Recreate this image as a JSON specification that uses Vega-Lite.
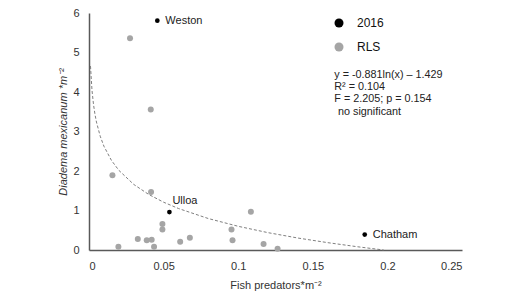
{
  "$schema": "https://vega.github.io/schema/vega-lite/v6.json",
  "width": 373,
  "height": 237,
  "autosize": {"type": "none"},
  "padding": {"left": 89, "top": 13, "right": 66, "bottom": 46},
  "background": "white",
  "config": {
    "view": {"stroke": null},
    "font": "Liberation Sans",
    "axis": {
      "grid": false,
      "ticks": false,
      "labelOverlap": false,
      "domainColor": "#595959",
      "domainWidth": 1.5,
      "labelFont": "Liberation Sans",
      "labelFontSize": 11,
      "labelColor": "#333333",
      "titleFont": "Liberation Sans",
      "titleFontSize": 11,
      "titleFontWeight": "normal",
      "titleColor": "#333333"
    }
  },
  "datasets": {
    "pts": [
      {"x": 0.0458, "y": 5.805, "group": "2016", "site": "Weston"},
      {"x": 0.0539, "y": 0.96, "group": "2016", "site": "Ulloa"},
      {"x": 0.1848, "y": 0.39, "group": "2016", "site": "Chatham"},
      {"x": 0.0275, "y": 5.36, "group": "RLS", "site": ""},
      {"x": 0.0414, "y": 3.56, "group": "RLS", "site": ""},
      {"x": 0.0157, "y": 1.89, "group": "RLS", "site": ""},
      {"x": 0.0416, "y": 1.47, "group": "RLS", "site": ""},
      {"x": 0.0492, "y": 0.66, "group": "RLS", "site": ""},
      {"x": 0.0492, "y": 0.52, "group": "RLS", "site": ""},
      {"x": 0.1085, "y": 0.97, "group": "RLS", "site": ""},
      {"x": 0.0955, "y": 0.52, "group": "RLS", "site": ""},
      {"x": 0.0962, "y": 0.25, "group": "RLS", "site": ""},
      {"x": 0.117, "y": 0.15, "group": "RLS", "site": ""},
      {"x": 0.1264, "y": 0.03, "group": "RLS", "site": ""},
      {"x": 0.0197, "y": 0.08, "group": "RLS", "site": ""},
      {"x": 0.0327, "y": 0.28, "group": "RLS", "site": ""},
      {"x": 0.0387, "y": 0.25, "group": "RLS", "site": ""},
      {"x": 0.042, "y": 0.26, "group": "RLS", "site": ""},
      {"x": 0.0436, "y": 0.08, "group": "RLS", "site": ""},
      {"x": 0.0611, "y": 0.21, "group": "RLS", "site": ""},
      {"x": 0.0676, "y": 0.31, "group": "RLS", "site": ""}
    ],
    "trend": [
      {"x": 0.001, "y": 4.657},
      {"x": 0.002, "y": 4.046},
      {"x": 0.003, "y": 3.689},
      {"x": 0.004, "y": 3.435},
      {"x": 0.005, "y": 3.239},
      {"x": 0.0075, "y": 2.882},
      {"x": 0.01, "y": 2.628},
      {"x": 0.015, "y": 2.271},
      {"x": 0.02, "y": 2.017},
      {"x": 0.03, "y": 1.66},
      {"x": 0.04, "y": 1.407},
      {"x": 0.05, "y": 1.21},
      {"x": 0.06, "y": 1.05},
      {"x": 0.08, "y": 0.796},
      {"x": 0.1, "y": 0.6},
      {"x": 0.12, "y": 0.439},
      {"x": 0.14, "y": 0.303},
      {"x": 0.16, "y": 0.186},
      {"x": 0.18, "y": 0.082},
      {"x": 0.1975, "y": 0.0}
    ],
    "notes": [
      {"x": 0.1644, "y": 4.43, "line": "y = -0.881ln(x) – 1.429"},
      {"x": 0.1644, "y": 4.13, "line": "R² = 0.104"},
      {"x": 0.1644, "y": 3.83, "line": "F = 2.205; p = 0.154"},
      {"x": 0.1669, "y": 3.5, "line": "no significant"}
    ]
  },
  "layer": [
    {
      "data": {"name": "trend"},
      "mark": {"type": "line", "color": "#7f7f7f", "strokeDash": [3, 2], "strokeWidth": 1},
      "encoding": {
        "x": {"field": "x", "type": "quantitative", "scale": {"domain": [0, 0.25], "nice": false},
          "axis": {"values": [0, 0.05, 0.1, 0.15, 0.2, 0.25], "format": "~g", "labelOverlap": false, "labelPadding": 10, "title": "Fish predators*m⁻²", "titlePadding": 8}},
        "y": {"field": "y", "type": "quantitative", "scale": {"domain": [0, 6], "nice": false},
          "axis": {"values": [0, 1, 2, 3, 4, 5, 6], "tickCount": 7, "labelOverlap": false, "labelPadding": 10, "title": "Diadema mexicanum *m⁻²", "titleFontStyle": "italic", "titlePadding": 4}}
      }
    },
    {
      "data": {"name": "pts"},
      "mark": {"type": "point", "filled": true, "opacity": 1, "shape": "circle"},
      "encoding": {
        "x": {"field": "x", "type": "quantitative"},
        "y": {"field": "y", "type": "quantitative"},
        "color": {"field": "group", "type": "nominal",
          "scale": {"domain": ["2016", "RLS"], "range": ["#000000", "#a5a5a5"]},
          "legend": {"title": null, "orient": "none", "legendX": 244, "legendY": 4, "symbolSize": 81, "symbolType": "circle", "symbolStrokeWidth": 0, "labelFontSize": 12, "labelFont": "Liberation Sans", "labelColor": "#111111", "labelOffset": 12, "rowPadding": 12}},
        "size": {"condition": {"test": "datum.group == '2016'", "value": 22}, "value": 36}
      }
    },
    {
      "data": {"name": "pts"},
      "transform": [{"filter": "datum.site == 'Weston' || datum.site == 'Chatham'"}],
      "mark": {"type": "text", "align": "left", "baseline": "middle", "dx": 8, "fontSize": 11, "color": "#222222"},
      "encoding": {
        "x": {"field": "x", "type": "quantitative"},
        "y": {"field": "y", "type": "quantitative"},
        "text": {"field": "site"}
      }
    },
    {
      "data": {"name": "pts"},
      "transform": [{"filter": "datum.site == 'Ulloa'"}],
      "mark": {"type": "text", "align": "left", "baseline": "middle", "dx": 3, "dy": -11, "fontSize": 11, "color": "#222222"},
      "encoding": {
        "x": {"field": "x", "type": "quantitative"},
        "y": {"field": "y", "type": "quantitative"},
        "text": {"field": "site"}
      }
    },
    {
      "data": {"name": "notes"},
      "mark": {"type": "text", "align": "left", "baseline": "middle", "fontSize": 10.8, "color": "#222222"},
      "encoding": {
        "x": {"field": "x", "type": "quantitative"},
        "y": {"field": "y", "type": "quantitative"},
        "text": {"field": "line"}
      }
    }
  ]
}
